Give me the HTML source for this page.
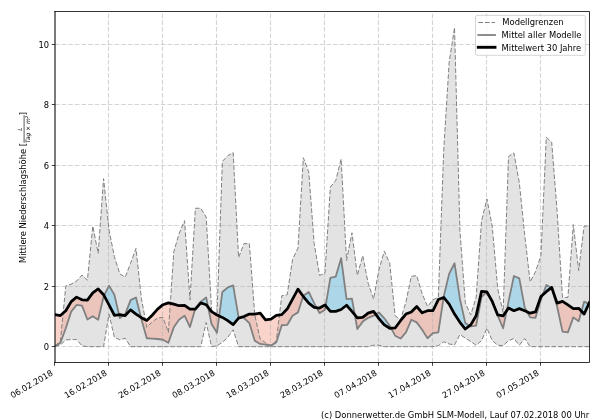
<!DOCTYPE html><html><head><meta charset="utf-8"><title>Niederschlag</title>
<style>html,body{margin:0;padding:0;background:#fff}svg{display:block;will-change:transform}text{font-family:'DejaVu Sans','Liberation Sans',sans-serif;font-size:8.333px;fill:#000}</style></head><body>
<svg width="600" height="420" viewBox="0 0 600 420">
<rect width="600" height="420" fill="#fff"/>
<defs><clipPath id="c"><rect x="55.00" y="11.50" width="534.50" height="351.00"/></clipPath></defs>
<g clip-path="url(#c)">
<path d="M55.00 346.10 L60.40 340.96 L65.80 285.94 L71.20 284.12 L76.60 281.10 L81.99 275.05 L87.39 280.19 L92.79 226.08 L98.19 253.29 L103.59 178.62 L108.99 230.01 L114.39 256.61 L119.79 273.85 L125.19 277.17 L130.59 263.27 L135.98 248.45 L141.38 298.33 L146.78 327.35 L152.18 321.91 L157.58 317.98 L162.98 317.38 L168.38 332.49 L173.78 251.78 L179.18 233.34 L184.58 220.64 L189.97 299.84 L195.37 208.25 L200.77 208.25 L206.17 217.01 L211.57 309.52 L216.97 315.56 L222.37 161.39 L227.77 155.65 L233.17 152.62 L238.57 257.52 L243.96 243.62 L249.36 243.62 L254.76 314.96 L260.16 338.99 L265.56 342.77 L270.96 345.49 L276.36 340.65 L281.76 295.76 L287.16 294.70 L292.56 259.34 L297.95 248.15 L303.35 157.76 L308.75 171.97 L314.15 243.31 L319.55 275.36 L324.95 273.24 L330.35 187.09 L335.75 180.43 L341.15 158.97 L346.55 260.54 L351.94 232.73 L357.34 275.36 L362.74 255.71 L368.14 283.22 L373.54 299.09 L378.94 269.61 L384.34 251.17 L389.74 263.27 L395.14 315.71 L400.54 320.10 L405.93 301.96 L411.33 276.26 L416.73 275.66 L422.13 293.80 L427.53 306.49 L432.93 299.84 L438.33 297.43 L443.73 150.20 L449.13 62.54 L454.53 27.47 L459.92 230.31 L465.32 302.87 L470.72 314.96 L476.12 297.43 L481.52 221.25 L486.92 198.88 L492.32 226.99 L497.72 288.66 L503.12 312.39 L508.52 156.55 L513.91 152.93 L519.31 182.55 L524.71 234.85 L530.11 282.01 L535.51 271.73 L540.91 255.71 L546.31 137.21 L551.71 142.35 L557.11 211.27 L562.51 297.43 L567.90 297.43 L573.30 224.57 L578.70 270.52 L584.10 226.08 L589.50 226.08 L589.50 346.70 L584.10 346.70 L578.70 346.70 L573.30 346.70 L567.90 346.70 L562.51 346.70 L557.11 346.70 L551.71 346.70 L546.31 346.70 L540.91 346.70 L535.51 346.70 L530.11 346.70 L524.71 338.54 L519.31 345.19 L513.91 338.54 L508.52 340.65 L503.12 345.64 L497.72 345.19 L492.32 340.65 L486.92 328.26 L481.52 340.65 L476.12 345.19 L470.72 341.56 L465.32 337.93 L459.92 334.61 L454.53 344.89 L449.13 343.98 L443.73 341.86 L438.33 345.64 L432.93 346.70 L427.53 346.70 L422.13 346.70 L416.73 346.70 L411.33 346.70 L405.93 346.70 L400.54 346.70 L395.14 346.70 L389.74 346.70 L384.34 346.70 L378.94 345.19 L373.54 345.19 L368.14 346.70 L362.74 346.70 L357.34 346.70 L351.94 346.70 L346.55 346.70 L341.15 346.70 L335.75 346.70 L330.35 346.70 L324.95 346.70 L319.55 346.70 L314.15 346.70 L308.75 346.70 L303.35 346.70 L297.95 346.70 L292.56 346.70 L287.16 346.70 L281.76 346.70 L276.36 346.70 L270.96 346.70 L265.56 346.70 L260.16 346.70 L254.76 346.70 L249.36 346.70 L243.96 346.70 L238.57 346.70 L233.17 329.77 L227.77 337.33 L222.37 342.32 L216.97 345.79 L211.57 346.70 L206.17 322.52 L200.77 346.70 L195.37 346.70 L189.97 346.70 L184.58 346.70 L179.18 346.70 L173.78 346.70 L168.38 346.70 L162.98 346.70 L157.58 346.70 L152.18 346.70 L146.78 346.70 L141.38 346.70 L135.98 346.70 L130.59 346.70 L125.19 338.24 L119.79 339.75 L114.39 337.33 L108.99 314.05 L103.59 346.70 L98.19 346.70 L92.79 346.70 L87.39 346.70 L81.99 345.79 L76.60 339.60 L71.20 339.60 L65.80 339.90 L60.40 344.89 L55.00 346.70Z" fill="#c8c8c8" fill-opacity="0.5" stroke="none"/>
<path d="M55.00 346.10 L60.40 342.77 L65.80 328.26 L71.20 311.63 L76.60 304.98 L81.99 305.59 L87.39 319.49 L92.79 316.17 L98.19 319.80 L103.59 296.52 L104.05 295.59 L104.05 295.59 L103.59 294.70 L98.19 288.96 L92.79 292.89 L87.39 300.15 L81.99 299.84 L76.60 297.12 L71.20 301.66 L65.80 310.73 L60.40 315.56 L55.00 314.66Z M119.04 314.74 L119.79 317.98 L123.50 315.28 L123.50 315.28 L119.79 314.66 L119.04 314.74Z M140.93 317.38 L141.38 319.19 L146.78 338.24 L152.18 338.54 L157.58 338.99 L162.98 339.75 L168.38 342.77 L173.78 327.35 L179.18 319.49 L184.58 315.71 L189.97 327.05 L195.16 309.06 L195.16 309.06 L189.97 309.06 L184.58 305.28 L179.18 305.74 L173.78 304.08 L168.38 302.87 L162.98 304.68 L157.58 309.06 L152.18 315.26 L146.78 320.40 L141.38 317.68 L140.93 317.38Z M208.17 307.25 L211.57 324.03 L216.97 332.79 L219.20 315.96 L219.20 315.96 L216.97 314.96 L211.57 311.63 L208.17 307.25Z M240.37 317.58 L243.96 317.98 L249.36 323.12 L254.76 340.65 L260.16 343.98 L265.56 344.58 L270.96 345.64 L276.36 342.32 L281.76 325.24 L287.16 324.93 L292.56 315.71 L297.95 312.39 L303.18 296.29 L303.18 296.29 L297.95 289.11 L292.56 299.09 L287.16 309.06 L281.76 314.66 L276.36 315.26 L270.96 319.04 L265.56 319.80 L260.16 313.14 L254.76 314.05 L249.36 314.05 L243.96 316.47 L240.37 317.58Z M316.59 307.67 L319.55 313.14 L324.95 309.82 L325.63 305.78 L325.63 305.78 L324.95 304.98 L319.55 308.01 L316.59 307.67Z M354.81 314.79 L357.34 329.02 L362.74 321.61 L368.14 317.83 L373.54 315.71 L375.78 314.34 L375.78 314.34 L373.54 311.33 L368.14 313.14 L362.74 317.38 L357.34 317.83 L354.81 314.79Z M391.09 328.18 L395.14 335.67 L400.54 338.54 L405.93 332.34 L411.33 319.80 L416.73 322.36 L422.13 329.77 L427.53 338.24 L432.93 333.10 L438.33 332.34 L443.58 297.48 L443.58 297.48 L438.33 299.54 L432.93 310.73 L427.53 310.73 L422.13 312.84 L416.73 306.49 L411.33 311.94 L405.93 314.05 L400.54 320.70 L395.14 327.96 L391.09 328.18Z M469.62 325.77 L470.72 326.45 L476.12 325.54 L481.52 297.12 L486.65 291.95 L486.65 291.95 L481.52 291.38 L476.12 315.71 L470.72 324.93 L469.62 325.77Z M495.26 308.91 L497.72 315.71 L503.12 328.26 L506.69 310.67 L506.69 310.67 L503.12 315.87 L497.72 314.96 L495.26 308.91Z M527.09 311.79 L530.11 317.38 L535.51 317.83 L540.91 299.84 L542.71 294.91 L542.71 294.91 L540.91 296.52 L535.51 311.94 L530.11 313.14 L527.09 311.79Z M551.26 287.80 L551.71 288.05 L557.11 306.49 L562.51 331.58 L567.90 332.34 L573.30 317.38 L578.70 321.31 L581.47 311.25 L581.47 311.25 L578.70 308.31 L573.30 308.61 L567.90 304.98 L562.51 301.36 L557.11 303.17 L551.71 287.45 L551.26 287.80Z M588.86 303.79 L589.50 304.08 L589.50 302.41 L588.86 303.79Z" fill="#f4a08a" fill-opacity="0.45" stroke="none"/>
<path d="M104.05 295.59 L108.99 285.64 L114.39 294.70 L119.04 314.74 L119.04 314.74 L114.39 315.26 L108.99 304.98 L104.05 295.59Z M123.50 315.28 L125.19 314.05 L130.59 300.15 L135.98 297.43 L140.93 317.38 L140.93 317.38 L135.98 314.05 L130.59 309.82 L125.19 315.56 L123.50 315.28Z M195.16 309.06 L195.37 308.31 L200.77 301.66 L206.17 297.43 L208.17 307.25 L208.17 307.25 L206.17 304.68 L200.77 302.87 L195.37 309.06 L195.16 309.06Z M219.20 315.96 L222.37 291.98 L227.77 287.45 L233.17 285.33 L238.57 317.38 L240.37 317.58 L240.37 317.58 L238.57 318.13 L233.17 324.63 L227.77 320.70 L222.37 317.38 L219.20 315.96Z M303.18 296.29 L303.35 295.76 L308.75 291.98 L314.15 303.17 L316.59 307.67 L316.59 307.67 L314.15 307.40 L308.75 303.17 L303.35 296.52 L303.18 296.29Z M325.63 305.78 L330.35 277.78 L335.75 276.57 L341.15 258.13 L346.55 299.09 L351.94 298.63 L354.81 314.79 L354.81 314.79 L351.94 311.33 L346.55 305.28 L341.15 309.52 L335.75 311.33 L330.35 311.33 L325.63 305.78Z M375.78 314.34 L378.94 312.39 L384.34 318.28 L389.74 325.69 L391.09 328.18 L391.09 328.18 L389.74 328.26 L384.34 324.93 L378.94 318.59 L375.78 314.34Z M443.58 297.48 L443.73 296.52 L449.13 273.85 L454.53 263.27 L459.92 298.94 L465.32 323.12 L469.62 325.77 L469.62 325.77 L465.32 329.02 L459.92 322.36 L454.53 314.05 L449.13 304.08 L443.73 297.43 L443.58 297.48Z M486.65 291.95 L486.92 291.68 L492.32 300.75 L495.26 308.91 L495.26 308.91 L492.32 301.66 L486.92 291.98 L486.65 291.95Z M506.69 310.67 L508.52 301.66 L513.91 275.96 L519.31 278.38 L524.71 307.40 L527.09 311.79 L527.09 311.79 L524.71 310.73 L519.31 308.61 L513.91 310.73 L508.52 308.01 L506.69 310.67Z M542.71 294.91 L546.31 285.03 L551.26 287.80 L551.26 287.80 L546.31 291.68 L542.71 294.91Z M581.47 311.25 L584.10 301.66 L588.86 303.79 L588.86 303.79 L584.10 314.05 L581.47 311.25Z" fill="#87ceeb" fill-opacity="0.6" stroke="none"/>
<line x1="54.50" x2="54.50" y1="362.50" y2="11.50" stroke="#b0b0b0" stroke-opacity="0.55" stroke-width="1.1" stroke-dasharray="4.62 2"/>
<line x1="108.50" x2="108.50" y1="362.50" y2="11.50" stroke="#b0b0b0" stroke-opacity="0.55" stroke-width="1.1" stroke-dasharray="4.62 2"/>
<line x1="162.50" x2="162.50" y1="362.50" y2="11.50" stroke="#b0b0b0" stroke-opacity="0.55" stroke-width="1.1" stroke-dasharray="4.62 2"/>
<line x1="216.50" x2="216.50" y1="362.50" y2="11.50" stroke="#b0b0b0" stroke-opacity="0.55" stroke-width="1.1" stroke-dasharray="4.62 2"/>
<line x1="270.50" x2="270.50" y1="362.50" y2="11.50" stroke="#b0b0b0" stroke-opacity="0.55" stroke-width="1.1" stroke-dasharray="4.62 2"/>
<line x1="324.50" x2="324.50" y1="362.50" y2="11.50" stroke="#b0b0b0" stroke-opacity="0.55" stroke-width="1.1" stroke-dasharray="4.62 2"/>
<line x1="378.50" x2="378.50" y1="362.50" y2="11.50" stroke="#b0b0b0" stroke-opacity="0.55" stroke-width="1.1" stroke-dasharray="4.62 2"/>
<line x1="432.50" x2="432.50" y1="362.50" y2="11.50" stroke="#b0b0b0" stroke-opacity="0.55" stroke-width="1.1" stroke-dasharray="4.62 2"/>
<line x1="486.50" x2="486.50" y1="362.50" y2="11.50" stroke="#b0b0b0" stroke-opacity="0.55" stroke-width="1.1" stroke-dasharray="4.62 2"/>
<line x1="540.50" x2="540.50" y1="362.50" y2="11.50" stroke="#b0b0b0" stroke-opacity="0.55" stroke-width="1.1" stroke-dasharray="4.62 2"/>
<line x1="55.00" x2="589.50" y1="346.50" y2="346.50" stroke="#b0b0b0" stroke-opacity="0.55" stroke-width="1.1" stroke-dasharray="4.62 2"/>
<line x1="55.00" x2="589.50" y1="286.50" y2="286.50" stroke="#b0b0b0" stroke-opacity="0.55" stroke-width="1.1" stroke-dasharray="4.62 2"/>
<line x1="55.00" x2="589.50" y1="225.50" y2="225.50" stroke="#b0b0b0" stroke-opacity="0.55" stroke-width="1.1" stroke-dasharray="4.62 2"/>
<line x1="55.00" x2="589.50" y1="165.50" y2="165.50" stroke="#b0b0b0" stroke-opacity="0.55" stroke-width="1.1" stroke-dasharray="4.62 2"/>
<line x1="55.00" x2="589.50" y1="104.50" y2="104.50" stroke="#b0b0b0" stroke-opacity="0.55" stroke-width="1.1" stroke-dasharray="4.62 2"/>
<line x1="55.00" x2="589.50" y1="44.50" y2="44.50" stroke="#b0b0b0" stroke-opacity="0.55" stroke-width="1.1" stroke-dasharray="4.62 2"/>
<path d="M55.00 346.10 L60.40 340.96 L65.80 285.94 L71.20 284.12 L76.60 281.10 L81.99 275.05 L87.39 280.19 L92.79 226.08 L98.19 253.29 L103.59 178.62 L108.99 230.01 L114.39 256.61 L119.79 273.85 L125.19 277.17 L130.59 263.27 L135.98 248.45 L141.38 298.33 L146.78 327.35 L152.18 321.91 L157.58 317.98 L162.98 317.38 L168.38 332.49 L173.78 251.78 L179.18 233.34 L184.58 220.64 L189.97 299.84 L195.37 208.25 L200.77 208.25 L206.17 217.01 L211.57 309.52 L216.97 315.56 L222.37 161.39 L227.77 155.65 L233.17 152.62 L238.57 257.52 L243.96 243.62 L249.36 243.62 L254.76 314.96 L260.16 338.99 L265.56 342.77 L270.96 345.49 L276.36 340.65 L281.76 295.76 L287.16 294.70 L292.56 259.34 L297.95 248.15 L303.35 157.76 L308.75 171.97 L314.15 243.31 L319.55 275.36 L324.95 273.24 L330.35 187.09 L335.75 180.43 L341.15 158.97 L346.55 260.54 L351.94 232.73 L357.34 275.36 L362.74 255.71 L368.14 283.22 L373.54 299.09 L378.94 269.61 L384.34 251.17 L389.74 263.27 L395.14 315.71 L400.54 320.10 L405.93 301.96 L411.33 276.26 L416.73 275.66 L422.13 293.80 L427.53 306.49 L432.93 299.84 L438.33 297.43 L443.73 150.20 L449.13 62.54 L454.53 27.47 L459.92 230.31 L465.32 302.87 L470.72 314.96 L476.12 297.43 L481.52 221.25 L486.92 198.88 L492.32 226.99 L497.72 288.66 L503.12 312.39 L508.52 156.55 L513.91 152.93 L519.31 182.55 L524.71 234.85 L530.11 282.01 L535.51 271.73 L540.91 255.71 L546.31 137.21 L551.71 142.35 L557.11 211.27 L562.51 297.43 L567.90 297.43 L573.30 224.57 L578.70 270.52 L584.10 226.08 L589.50 226.08" fill="none" stroke="#808080" stroke-width="1.0" stroke-dasharray="4.62 2"/>
<path d="M55.00 346.70 L60.40 344.89 L65.80 339.90 L71.20 339.60 L76.60 339.60 L81.99 345.79 L87.39 346.70 L92.79 346.70 L98.19 346.70 L103.59 346.70 L108.99 314.05 L114.39 337.33 L119.79 339.75 L125.19 338.24 L130.59 346.70 L135.98 346.70 L141.38 346.70 L146.78 346.70 L152.18 346.70 L157.58 346.70 L162.98 346.70 L168.38 346.70 L173.78 346.70 L179.18 346.70 L184.58 346.70 L189.97 346.70 L195.37 346.70 L200.77 346.70 L206.17 322.52 L211.57 346.70 L216.97 345.79 L222.37 342.32 L227.77 337.33 L233.17 329.77 L238.57 346.70 L243.96 346.70 L249.36 346.70 L254.76 346.70 L260.16 346.70 L265.56 346.70 L270.96 346.70 L276.36 346.70 L281.76 346.70 L287.16 346.70 L292.56 346.70 L297.95 346.70 L303.35 346.70 L308.75 346.70 L314.15 346.70 L319.55 346.70 L324.95 346.70 L330.35 346.70 L335.75 346.70 L341.15 346.70 L346.55 346.70 L351.94 346.70 L357.34 346.70 L362.74 346.70 L368.14 346.70 L373.54 345.19 L378.94 345.19 L384.34 346.70 L389.74 346.70 L395.14 346.70 L400.54 346.70 L405.93 346.70 L411.33 346.70 L416.73 346.70 L422.13 346.70 L427.53 346.70 L432.93 346.70 L438.33 345.64 L443.73 341.86 L449.13 343.98 L454.53 344.89 L459.92 334.61 L465.32 337.93 L470.72 341.56 L476.12 345.19 L481.52 340.65 L486.92 328.26 L492.32 340.65 L497.72 345.19 L503.12 345.64 L508.52 340.65 L513.91 338.54 L519.31 345.19 L524.71 338.54 L530.11 346.70 L535.51 346.70 L540.91 346.70 L546.31 346.70 L551.71 346.70 L557.11 346.70 L562.51 346.70 L567.90 346.70 L573.30 346.70 L578.70 346.70 L584.10 346.70 L589.50 346.70" fill="none" stroke="#808080" stroke-width="1.0" stroke-dasharray="4.62 2"/>
<path d="M55.00 346.10 L60.40 342.77 L65.80 328.26 L71.20 311.63 L76.60 304.98 L81.99 305.59 L87.39 319.49 L92.79 316.17 L98.19 319.80 L103.59 296.52 L108.99 285.64 L114.39 294.70 L119.79 317.98 L125.19 314.05 L130.59 300.15 L135.98 297.43 L141.38 319.19 L146.78 338.24 L152.18 338.54 L157.58 338.99 L162.98 339.75 L168.38 342.77 L173.78 327.35 L179.18 319.49 L184.58 315.71 L189.97 327.05 L195.37 308.31 L200.77 301.66 L206.17 297.43 L211.57 324.03 L216.97 332.79 L222.37 291.98 L227.77 287.45 L233.17 285.33 L238.57 317.38 L243.96 317.98 L249.36 323.12 L254.76 340.65 L260.16 343.98 L265.56 344.58 L270.96 345.64 L276.36 342.32 L281.76 325.24 L287.16 324.93 L292.56 315.71 L297.95 312.39 L303.35 295.76 L308.75 291.98 L314.15 303.17 L319.55 313.14 L324.95 309.82 L330.35 277.78 L335.75 276.57 L341.15 258.13 L346.55 299.09 L351.94 298.63 L357.34 329.02 L362.74 321.61 L368.14 317.83 L373.54 315.71 L378.94 312.39 L384.34 318.28 L389.74 325.69 L395.14 335.67 L400.54 338.54 L405.93 332.34 L411.33 319.80 L416.73 322.36 L422.13 329.77 L427.53 338.24 L432.93 333.10 L438.33 332.34 L443.73 296.52 L449.13 273.85 L454.53 263.27 L459.92 298.94 L465.32 323.12 L470.72 326.45 L476.12 325.54 L481.52 297.12 L486.92 291.68 L492.32 300.75 L497.72 315.71 L503.12 328.26 L508.52 301.66 L513.91 275.96 L519.31 278.38 L524.71 307.40 L530.11 317.38 L535.51 317.83 L540.91 299.84 L546.31 285.03 L551.71 288.05 L557.11 306.49 L562.51 331.58 L567.90 332.34 L573.30 317.38 L578.70 321.31 L584.10 301.66 L589.50 304.08" fill="none" stroke="#808080" stroke-width="1.8" stroke-linejoin="round"/>
<path d="M55.00 314.66 L60.40 315.56 L65.80 310.73 L71.20 301.66 L76.60 297.12 L81.99 299.84 L87.39 300.15 L92.79 292.89 L98.19 288.96 L103.59 294.70 L108.99 304.98 L114.39 315.26 L119.79 314.66 L125.19 315.56 L130.59 309.82 L135.98 314.05 L141.38 317.68 L146.78 320.40 L152.18 315.26 L157.58 309.06 L162.98 304.68 L168.38 302.87 L173.78 304.08 L179.18 305.74 L184.58 305.28 L189.97 309.06 L195.37 309.06 L200.77 302.87 L206.17 304.68 L211.57 311.63 L216.97 314.96 L222.37 317.38 L227.77 320.70 L233.17 324.63 L238.57 318.13 L243.96 316.47 L249.36 314.05 L254.76 314.05 L260.16 313.14 L265.56 319.80 L270.96 319.04 L276.36 315.26 L281.76 314.66 L287.16 309.06 L292.56 299.09 L297.95 289.11 L303.35 296.52 L308.75 303.17 L314.15 307.40 L319.55 308.01 L324.95 304.98 L330.35 311.33 L335.75 311.33 L341.15 309.52 L346.55 305.28 L351.94 311.33 L357.34 317.83 L362.74 317.38 L368.14 313.14 L373.54 311.33 L378.94 318.59 L384.34 324.93 L389.74 328.26 L395.14 327.96 L400.54 320.70 L405.93 314.05 L411.33 311.94 L416.73 306.49 L422.13 312.84 L427.53 310.73 L432.93 310.73 L438.33 299.54 L443.73 297.43 L449.13 304.08 L454.53 314.05 L459.92 322.36 L465.32 329.02 L470.72 324.93 L476.12 315.71 L481.52 291.38 L486.92 291.98 L492.32 301.66 L497.72 314.96 L503.12 315.87 L508.52 308.01 L513.91 310.73 L519.31 308.61 L524.71 310.73 L530.11 313.14 L535.51 311.94 L540.91 296.52 L546.31 291.68 L551.71 287.45 L557.11 303.17 L562.51 301.36 L567.90 304.98 L573.30 308.61 L578.70 308.31 L584.10 314.05 L589.50 302.41" fill="none" stroke="#000" stroke-width="2.75" stroke-linejoin="round" stroke-linecap="square"/>
</g>
<path d="M55.00 11.50H589.50V362.50H55.00" fill="none" stroke="#000" stroke-width="0.8" stroke-linejoin="miter" stroke-linecap="square"/>
<line x1="55.00" x2="55.00" y1="11.50" y2="362.50" stroke="#000" stroke-width="1.05" stroke-linecap="square"/>
<line x1="54.50" x2="54.50" y1="362.50" y2="365.80" stroke="#000" stroke-width="0.75"/>
<line x1="108.50" x2="108.50" y1="362.50" y2="365.80" stroke="#000" stroke-width="0.75"/>
<line x1="162.50" x2="162.50" y1="362.50" y2="365.80" stroke="#000" stroke-width="0.75"/>
<line x1="216.50" x2="216.50" y1="362.50" y2="365.80" stroke="#000" stroke-width="0.75"/>
<line x1="270.50" x2="270.50" y1="362.50" y2="365.80" stroke="#000" stroke-width="0.75"/>
<line x1="324.50" x2="324.50" y1="362.50" y2="365.80" stroke="#000" stroke-width="0.75"/>
<line x1="378.50" x2="378.50" y1="362.50" y2="365.80" stroke="#000" stroke-width="0.75"/>
<line x1="432.50" x2="432.50" y1="362.50" y2="365.80" stroke="#000" stroke-width="0.75"/>
<line x1="486.50" x2="486.50" y1="362.50" y2="365.80" stroke="#000" stroke-width="0.75"/>
<line x1="540.50" x2="540.50" y1="362.50" y2="365.80" stroke="#000" stroke-width="0.75"/>
<line x1="51.80" x2="55.00" y1="346.50" y2="346.50" stroke="#000" stroke-width="0.75"/>
<text x="49.17" y="350.30" text-anchor="end">0</text>
<line x1="51.80" x2="55.00" y1="286.50" y2="286.50" stroke="#000" stroke-width="0.75"/>
<text x="49.17" y="289.84" text-anchor="end">2</text>
<line x1="51.80" x2="55.00" y1="225.50" y2="225.50" stroke="#000" stroke-width="0.75"/>
<text x="49.17" y="229.38" text-anchor="end">4</text>
<line x1="51.80" x2="55.00" y1="165.50" y2="165.50" stroke="#000" stroke-width="0.75"/>
<text x="49.17" y="168.92" text-anchor="end">6</text>
<line x1="51.80" x2="55.00" y1="104.50" y2="104.50" stroke="#000" stroke-width="0.75"/>
<text x="49.17" y="108.46" text-anchor="end">8</text>
<line x1="51.80" x2="55.00" y1="44.50" y2="44.50" stroke="#000" stroke-width="0.75"/>
<text x="49.17" y="48.00" text-anchor="end">10</text>
<text transform="translate(53.70 374.70) rotate(-30)" x="0" y="0" text-anchor="end">06.02.2018</text>
<text transform="translate(107.69 374.70) rotate(-30)" x="0" y="0" text-anchor="end">16.02.2018</text>
<text transform="translate(161.68 374.70) rotate(-30)" x="0" y="0" text-anchor="end">26.02.2018</text>
<text transform="translate(215.67 374.70) rotate(-30)" x="0" y="0" text-anchor="end">08.03.2018</text>
<text transform="translate(269.66 374.70) rotate(-30)" x="0" y="0" text-anchor="end">18.03.2018</text>
<text transform="translate(323.65 374.70) rotate(-30)" x="0" y="0" text-anchor="end">28.03.2018</text>
<text transform="translate(377.64 374.70) rotate(-30)" x="0" y="0" text-anchor="end">07.04.2018</text>
<text transform="translate(431.63 374.70) rotate(-30)" x="0" y="0" text-anchor="end">17.04.2018</text>
<text transform="translate(485.62 374.70) rotate(-30)" x="0" y="0" text-anchor="end">27.04.2018</text>
<text transform="translate(539.61 374.70) rotate(-30)" x="0" y="0" text-anchor="end">07.05.2018</text>
<g transform="translate(26.4 187) rotate(-90)"><text x="-16" y="0" text-anchor="middle">Mittlere Niederschlagshöhe [</text><text x="57.8" y="-4.7" text-anchor="middle" style="font-size:5.9px;font-style:italic">L</text><line x1="44.2" x2="71.9" y1="-2.3" y2="-2.3" stroke="#000" stroke-width="0.65"/><text x="57.7" y="3.8" text-anchor="middle" style="font-size:5.9px;font-style:italic">Tag × m<tspan dy="-2.2" style="font-size:4.1px">2</tspan></text><text x="71.8" y="0">]</text></g>
<rect x="475.5" y="15.4" width="109.8" height="39.9" rx="1.7" ry="1.7" fill="#fff" fill-opacity="0.8" stroke="#ccc" stroke-width="0.83"/>
<line x1="478.3" x2="495.0" y1="22.5" y2="22.5" stroke="#808080" stroke-width="1.0" stroke-dasharray="4.62 2"/>
<line x1="478.3" x2="495.0" y1="35.0" y2="35.0" stroke="#808080" stroke-width="1.8" stroke-linecap="square"/>
<line x1="478.3" x2="495.0" y1="47.3" y2="47.3" stroke="#000" stroke-width="2.9" stroke-linecap="square"/>
<text x="502.3" y="25.20" style="font-size:8.4px">Modellgrenzen</text>
<text x="501.6" y="37.80" style="font-size:8.4px">Mittel aller Modelle</text>
<text x="501.6" y="50.60" style="font-size:8.4px">Mittelwert 30 Jahre</text>
<text x="589.3" y="417.6" text-anchor="end" style="font-size:8.39px">(c) Donnerwetter.de GmbH SLM-Modell, Lauf 07.02.2018 00 Uhr</text>
</svg></body></html>
